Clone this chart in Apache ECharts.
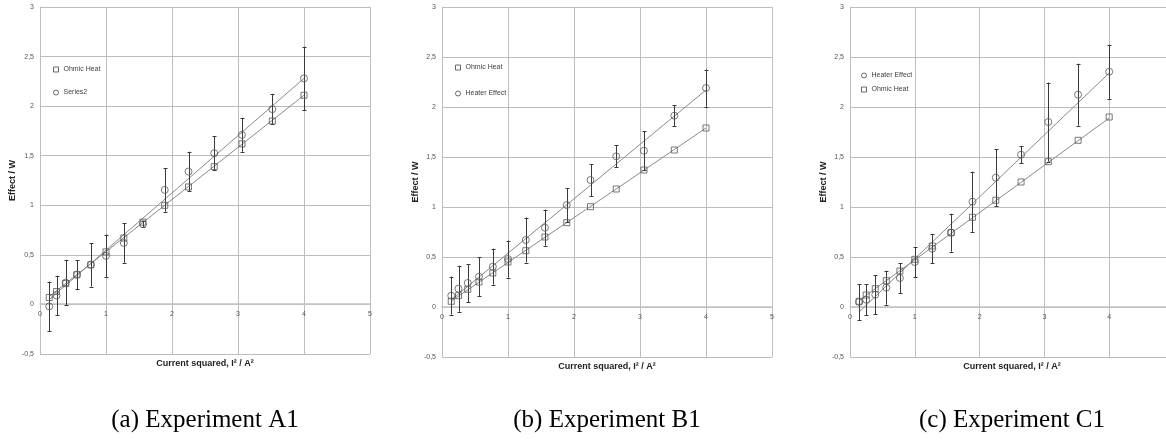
<!DOCTYPE html>
<html>
<head>
<meta charset="utf-8">
<script src="https://cdn.jsdelivr.net/npm/echarts@6/dist/echarts.min.js"></script>
<style>
  html, body { margin: 0; padding: 0; background: #fff; }
  #chart { width: 1166px; height: 443px; }
</style>
</head>
<body>
<div id="chart"></div>
<script>
// Current squared (I^2 / A^2) at each measurement step
const currentSquared = [0.14, 0.25, 0.39, 0.56, 0.77, 1.0, 1.27, 1.56, 1.89, 2.25, 2.64, 3.06, 3.52, 4.0];

// Experiment A1
const ohmicA = [0.07, 0.13, 0.21, 0.30, 0.40, 0.53, 0.67, 0.83, 1.00, 1.185, 1.39, 1.62, 1.85, 2.11];
const heaterA = [-0.02, 0.09, 0.22, 0.30, 0.40, 0.49, 0.62, 0.81, 1.155, 1.34, 1.525, 1.71, 1.97, 2.28];
const errA = [0.25, 0.20, 0.23, 0.145, 0.22, 0.215, 0.20, 0.03, 0.22, 0.20, 0.17, 0.17, 0.155, 0.32];
const trendHeaterA = [[0.14, 0.05], [4.0, 2.28]];
const trendOhmicA = [[0.14, 0.08], [4.0, 2.11]];

// Experiment B1
const ohmicB = [0.057, 0.113, 0.177, 0.25, 0.34, 0.45, 0.563, 0.70, 0.843, 1.003, 1.18, 1.37, 1.57, 1.79];
const heaterB = [0.113, 0.183, 0.24, 0.303, 0.403, 0.48, 0.67, 0.793, 1.02, 1.27, 1.507, 1.563, 1.913, 2.19];
const errB = [0.19, 0.23, 0.19, 0.195, 0.18, 0.185, 0.225, 0.18, 0.17, 0.16, 0.11, 0.195, 0.103, 0.185];
const trendHeaterB = [[0.14, 0.07], [4.0, 2.17]];
const trendOhmicB = [[0.14, 0.06], [4.0, 1.79]];

// Experiment C1
const ohmicC = [0.057, 0.12, 0.183, 0.263, 0.36, 0.477, 0.61, 0.743, 0.897, 1.067, 1.25, 1.453, 1.667, 1.90];
const heaterC = [0.05, 0.073, 0.123, 0.193, 0.29, 0.45, 0.583, 0.743, 1.053, 1.293, 1.523, 1.85, 2.123, 2.353];
const errC = [0.18, 0.155, 0.195, 0.17, 0.15, 0.15, 0.145, 0.19, 0.30, 0.285, 0.085, 0.395, 0.31, 0.27];
const trendHeaterC = [[0.14, -0.05], [4.0, 2.34]];
const trendOhmicC = [[0.14, 0.065], [4.0, 1.89]];

const captions = ['(a) Experiment A1', '(b) Experiment B1', '(c) Experiment C1'];
const xTitle = 'Current squared, I\u00b2 / A\u00b2';
const yTitle = 'Effect / W';

const SANS = '"Liberation Sans", Arial, sans-serif';
const GRID_COLOR = '#bdbdbd';
const MARK_COLOR = '#585858';

const pairs = (xs, ys) => xs.map((x, i) => [x, ys[i]]);
const errRows = (xs, ys, es) => xs.map((x, i) => [x, ys[i] - es[i], ys[i] + es[i]]);

function renderErrorBar(params, api) {
  const x = api.value(0);
  const top = api.coord([x, api.value(2)]);
  const bot = api.coord([x, api.value(1)]);
  const cx = Math.round(top[0]) + 0.5;
  const cap = 2;
  const style = { stroke: '#3a3a3a', lineWidth: 1 };
  return {
    type: 'group',
    children: [
      { type: 'line', shape: { x1: cx, y1: top[1], x2: cx, y2: bot[1] }, style },
      { type: 'line', shape: { x1: cx - cap, y1: Math.round(top[1]) + 0.5, x2: cx + cap, y2: Math.round(top[1]) + 0.5 }, style },
      { type: 'line', shape: { x1: cx - cap, y1: Math.round(bot[1]) + 0.5, x2: cx + cap, y2: Math.round(bot[1]) + 0.5 }, style }
    ]
  };
}

// the third panel runs past the right edge of the page, so bounds are not enforced
const grids = [
  { left: 40, width: 330, top: 7, height: 347, outerBoundsMode: 'none' },
  { left: 442, width: 330, top: 7, height: 350, outerBoundsMode: 'none' },
  { left: 850, width: 324, top: 7, height: 350, outerBoundsMode: 'none' }
];
const yNameGap = [23, 19, 22];
const xNameGap = [55, 55, 55];
// the horizontal axis crosses the vertical one at 0 W, i.e. half a unit above the bottom
const Y_MIN = -0.5, Y_MAX = 3;
const xAxisOffset = grids.map(g => -Math.round(g.height * (0 - Y_MIN) / (Y_MAX - Y_MIN)));

const xAxes = grids.map((g, i) => ({
  type: 'value', gridIndex: i, min: 0, max: 5, interval: 1,
  position: 'bottom', offset: xAxisOffset[i],
  axisLine: { onZero: false, lineStyle: { color: '#c4c4c4', width: 1.5 } },
  axisTick: { show: false },
  axisLabel: { fontSize: 7, color: '#555', margin: 7, fontFamily: SANS, showMaxLabel: true },
  splitLine: { show: true, lineStyle: { color: GRID_COLOR, width: 1 } },
  name: xTitle, nameLocation: 'middle', nameGap: xNameGap[i],
  nameTextStyle: { fontSize: 9, fontWeight: 'bold', color: '#222', fontFamily: SANS }
}));

const yAxes = grids.map((g, i) => ({
  type: 'value', gridIndex: i, min: Y_MIN, max: Y_MAX, interval: 0.5,
  axisLine: { show: true, lineStyle: { color: GRID_COLOR } },
  axisTick: { show: false },
  axisLabel: {
    fontSize: 7, color: '#555', margin: 6, fontFamily: SANS,
    formatter: v => String(v).replace('.', ',')
  },
  splitLine: { show: true, lineStyle: { color: GRID_COLOR, width: 1 } },
  name: yTitle, nameLocation: 'middle', nameGap: yNameGap[i], nameRotate: 90,
  nameTextStyle: { fontSize: 9, fontWeight: 'bold', color: '#222', fontFamily: SANS }
}));

const panels = [
  { heaterName: 'Series2', ohmic: ohmicA, heater: heaterA, err: errA, tH: trendHeaterA, tO: trendOhmicA },
  { heaterName: 'Heater Effect', ohmic: ohmicB, heater: heaterB, err: errB, tH: trendHeaterB, tO: trendOhmicB },
  { heaterName: 'Heater Effect', ohmic: ohmicC, heater: heaterC, err: errC, tH: trendHeaterC, tO: trendOhmicC }
];

const markerStyle = { color: 'rgba(255,255,255,0)', borderColor: MARK_COLOR, borderWidth: 1 };
const series = [];
panels.forEach((p, i) => {
  const axes = { xAxisIndex: i, yAxisIndex: i };
  series.push(
    { type: 'line', ...axes, data: p.tH, showSymbol: false, silent: true,
      lineStyle: { color: '#8a8a8a', width: 1 }, z: 2 },
    { type: 'line', ...axes, data: p.tO, showSymbol: false, silent: true,
      lineStyle: { color: '#8a8a8a', width: 1 }, z: 2 },
    { type: 'custom', ...axes, data: errRows(currentSquared, p.heater, p.err),
      renderItem: renderErrorBar, z: 3, silent: true },
    { type: 'scatter', name: 'Ohmic Heat', ...axes, data: pairs(currentSquared, p.ohmic),
      symbol: 'rect', symbolSize: 6, itemStyle: markerStyle, z: 4 },
    { type: 'scatter', name: p.heaterName, ...axes, data: pairs(currentSquared, p.heater),
      symbol: 'circle', symbolSize: 7, itemStyle: markerStyle, z: 4 }
  );
});

const legendBase = {
  orient: 'vertical', itemWidth: 5, itemHeight: 5, itemTextGap: 2, selectedMode: false,
  icon: 'rect',
  itemStyle: { color: 'rgba(255,255,255,0)', borderColor: '#444', borderWidth: 1 },
  textStyle: { fontSize: 7, color: '#404040', fontFamily: SANS }
};
const legends = [
  { ...legendBase, left: 48, top: 61, itemGap: 16,
    data: [{ name: 'Ohmic Heat', icon: 'rect' }, { name: 'Series2', icon: 'circle' }] },
  { ...legendBase, left: 450, top: 59, itemGap: 19,
    data: [{ name: 'Ohmic Heat', icon: 'rect' }, { name: 'Heater Effect', icon: 'circle' }] },
  { ...legendBase, left: 856, top: 67, itemGap: 7,
    data: [{ name: 'Heater Effect', icon: 'circle' }, { name: 'Ohmic Heat', icon: 'rect' }] }
];

const captionCenters = [205, 607, 1012];
const graphic = captions.map((t, i) => ({
  type: 'text', x: captionCenters[i], y: 420,
  style: { text: t, fill: '#000', font: '25px "Liberation Serif", "Times New Roman", serif',
    textAlign: 'center', textVerticalAlign: 'middle' }
}));

const chart = echarts.init(document.getElementById('chart'), null, { renderer: 'canvas' });
chart.setOption({
  animation: false,
  backgroundColor: '#fff',
  grid: grids,
  xAxis: xAxes,
  yAxis: yAxes,
  legend: legends,
  series,
  graphic
});
</script>
</body>
</html>
